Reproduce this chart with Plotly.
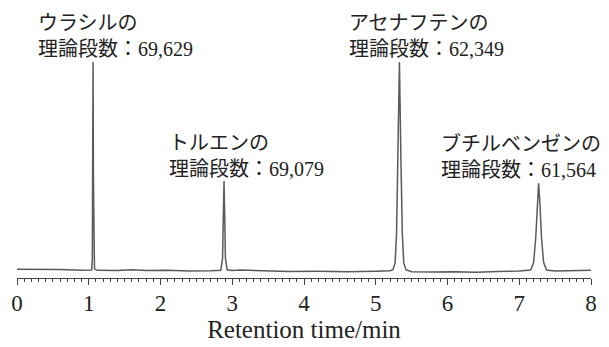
import plotly.graph_objects as go

# Chromatogram trace (time in min, signal in relative units)
time_min = [
    0.00, 0.30, 0.60, 0.90, 1.00, 1.04, 1.05, 1.055, 1.06, 1.065, 1.07, 1.08, 1.12,
    1.40, 1.60, 1.80, 2.10, 2.40, 2.70, 2.84, 2.865, 2.875, 2.885, 2.895, 2.905, 2.93,
    3.00, 3.10, 3.40, 3.80, 4.20, 4.60, 5.00, 5.20, 5.24, 5.27, 5.29, 5.31, 5.33,
    5.35, 5.37, 5.39, 5.42, 5.50, 5.80, 6.10, 6.40, 6.70, 7.00, 7.16, 7.20, 7.23,
    7.25, 7.27, 7.29, 7.31, 7.34, 7.38, 7.50, 7.70, 8.00,
]
signal = [
    0.8, 0.9, 0.7, 0.4, 0.4, 0.5, 6.0, 45.0, 100.0, 45.0, 6.0, 1.0, 0.3,
    0.2, 0.6, 0.2, 0.4, 0.0, 0.1, 0.3, 6.0, 26.0, 43.0, 26.0, 6.0, 0.6,
    0.2, 0.5, 0.1, -0.2, -0.1, -0.3, -0.1, 0.1, 0.6, 4.0, 18.0, 55.0, 100.0,
    55.0, 18.0, 4.0, 0.6, -0.3, -0.5, -0.3, -0.6, -0.2, 0.0, 0.5, 4.0, 16.0,
    31.0, 42.0, 31.0, 16.0, 4.0, 0.5, 0.0, 0.2, 0.3,
]

peak_names = ["ウラシルの", "トルエンの", "アセナフテンの", "ブチルベンゼンの"]
plate_numbers = ["69,629", "69,079", "62,349", "61,564"]
plate_label = "理論段数："
x_ticks = [0, 1, 2, 3, 4, 5, 6, 7, 8]
x_title = "Retention time/min"

# Layout geometry (pixels, figure coordinates; page body adds an 8 px offset)
W, H = 601, 339
L, R, T, B = 9, 18, 2, 69
pw, ph = W - L - R, H - T - B
label_pos = [(28, 2), (159, 122), (339, 2), (431, 122)]  # left, top in px

FONT = "Liberation Serif, Noto Sans CJK JP, serif"

fig = go.Figure()
fig.add_trace(go.Scatter(
    x=time_min, y=signal, mode="lines",
    line=dict(color="#5a5a5a", width=1.5),
    hoverinfo="skip", showlegend=False,
))

for name, n, (px, py) in zip(peak_names, plate_numbers, label_pos):
    fig.add_annotation(
        x=(px - L) / pw, y=(H - B - py) / ph,
        xref="paper", yref="paper", xanchor="left", yanchor="top",
        text=f"{name}<br>{plate_label}{n}", showarrow=False, align="left",
        font=dict(family=FONT, size=20, color="#222222"),
    )

fig.update_layout(
    width=W, height=H,
    margin=dict(l=L, r=R, t=T, b=B, pad=0, autoexpand=False),
    paper_bgcolor="white", plot_bgcolor="white",
    xaxis=dict(
        range=[0, 8], tickvals=x_ticks, ticktext=[str(v) for v in x_ticks],
        automargin=False,
        showgrid=False, zeroline=False,
        showline=True, linecolor="#444444", linewidth=1,
        ticks="outside", ticklen=6, tickcolor="#444444", tickwidth=1,
        minor=dict(dtick=0.1, tick0=0, ticks="outside", ticklen=3,
                   tickcolor="#444444", tickwidth=1, showgrid=False),
        tickfont=dict(family=FONT, size=23, color="#222222"),
        ticklabelstandoff=-2,
        title=dict(text=x_title, font=dict(family=FONT, size=25, color="#222222"),
                   standoff=0),
    ),
    yaxis=dict(range=[-3.35, 124.9], visible=False, fixedrange=True),
)

fig.write_html("out.html")
